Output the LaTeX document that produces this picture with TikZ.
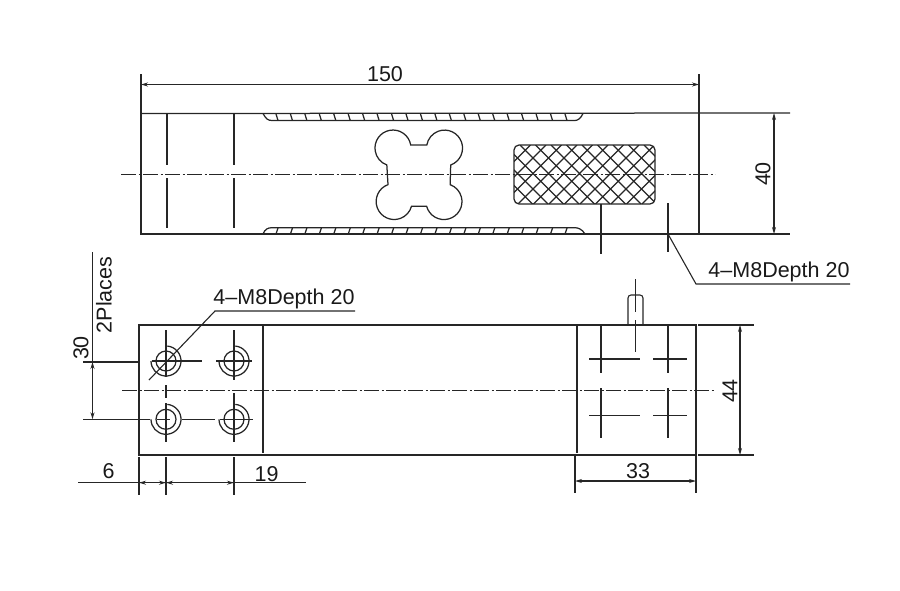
\documentclass[tikz,border=0pt]{standalone}
\usepackage{fontspec}
\setmainfont{Liberation Sans}
\usetikzlibrary{arrows.meta}
\tikzset{
  outline/.style = {line width = 1.25pt, black!85},
  thinline/.style = {line width = 1.1pt, black!85},
  axisline/.style = {line width = 1.4pt, black!85, dash pattern = on 15pt off 2.5pt on 2pt off 2.5pt},
  dimline/.style = {line width = 1.1pt, black!85, {Stealth[length = 7pt, width = 4pt]}-{Stealth[length = 7pt, width = 4pt]}},
  dimtext/.style = {inner sep = 0pt, font = \fontsize{21.5}{25}\selectfont, text = black!90}
}
\begin{document}
\begin{tikzpicture}[x = 1pt, y = -1pt, >={Stealth[length = 7pt, width = 4pt]}]
        \useasboundingbox (0, 0) rectangle (900, 590);

        % ------------------------------------------------------------------------
        % Top view
        \draw[outline] (141, 74) -- (141, 234) -- (790, 234);
        \draw[outline] (141, 113.5) -- (790, 113);
        \draw[outline] (699, 74) -- (699, 234);

        \draw[outline] (167, 114) -- (167, 165) (167, 178) -- (167, 228);
        \draw[outline] (234, 114) -- (234, 165) (234, 178) -- (234, 228);

        \draw[axisline] (121, 174.3) -- (715, 174.3);

        \draw[thinline] (141, 84.5) edge[<->] (699, 84.5);
        \draw[dimline] (774, 113) -- (774, 234);
        \node[dimtext] at (385, 74) (top_length) {150};
        \node[dimtext, rotate = 90] at (763, 174) (top_height) {40};

        % ribs
        \draw[outline] (263, 113.5) .. controls (266, 119) and (268, 120.5) .. (272, 120.5)
          -- (575, 120.5) .. controls (578, 120.5) and (581, 118) .. (583, 113.5);
        \draw[outline] (263, 234) .. controls (265, 229) and (268, 227.7) .. (272, 227.7)
          -- (575, 227.7) .. controls (578, 227.7) and (582, 229) .. (585, 234);
        \foreach \k in {0, ..., 20} {
          \draw[outline] ({276 + 14.45 * \k}, 114) -- ++(2, 6.5);
          \draw[outline] ({278 + 14.45 * \k}, 228) -- ++(-2, 6);
        }

        % flexure hole
        \draw[outline]
          (410.7, 144.9) arc[start angle = -10, end angle = -250, radius = 18]
          -- (388, 184.6) arc[start angle = 250, end angle = 15, radius = 18]
          -- (426.6, 206.2) arc[start angle = 165, end angle = -70, radius = 18]
          -- (450.7, 165) arc[start angle = 70, end angle = -170, radius = 18]
          -- cycle;

        % strain gauge window
        \begin{scope}
          \clip[rounded corners = 5pt] (514, 145) rectangle (655, 204);
          \foreach \k in {0, ..., 13} {
            \draw[outline] ({458 + 15.5 * \k}, 145) -- ++(59, 59);
            \draw[outline] ({515 + 15.5 * \k}, 145) -- ++(-59, 59);
          }
        \end{scope}
        \draw[outline, rounded corners = 5pt] (514, 145) rectangle (655, 204);

        \draw[outline] (601, 204) -- (601, 254);
        \draw[outline] (668, 203) -- (668, 252);

        \node[dimtext] at (779, 272) (top_holes) {4–M8Depth 20};
        \draw[thinline] (668, 234) -- (696, 284) -- (850, 284);

        % ------------------------------------------------------------------------
        % Bottom view
        \draw[outline] (139, 325) rectangle (696, 455);
        \draw[outline] (263, 325) -- (263, 453);
        \draw[outline] (577, 325) -- (577, 453);

        \draw[axisline] (122, 390.7) -- (715, 390.7);

        % cable
        \draw[thinline, rounded corners = 3pt] (628, 325) -- (628, 295) -- (643, 295) -- (643, 325);
        \draw[outline] (635.7, 279) -- (635.7, 312) (635.7, 320) -- (635.7, 352);

        % right holes
        \foreach \xa/\xb/\xc in {601/589/640, 668/653/687} {
          \draw[outline] (\xa, 325) -- (\xa, 373);
          \draw[outline] (\xa, 388) -- (\xa, 438);
          \draw[outline] (\xb, 359) -- (\xc, 359);
          \draw[outline] (\xb, 415.3) -- (\xc, 415.3);
        }

        % left holes
        \foreach \xa/\ya in {166/361, 234/361, 166/419.3, 234/419.3} {
          \draw[outline] (\xa, \ya) circle[radius = 10];
          \draw[outline] (\xa, \ya) ++(-85:15) arc[start angle = -85, end angle = 180, radius = 15];
        }
        \draw[outline]
          (166, 330) -- (166, 377)
          (166, 385) -- (166, 398)
          (166, 403) -- (166, 442)
          (234, 330) -- (234, 380)
          (234, 393) -- (234, 442)
          (83, 362) -- (139, 362)
          (152, 361) -- (202, 361)
          (216, 361) -- (252, 361)
          (83, 419.3) -- (150, 419.3)
          (157, 419.3) -- (170, 419.3)
          (182, 419.3) -- (215, 419.3)
          (220, 419.3) -- (253, 419.3)
        ;

        \node[dimtext] at (284, 299.3) (bottom_holes) {4–M8Depth 20};
        \draw[thinline] (355, 311) -- (215, 311) -- (149, 380);

        % dimensions
        \draw[thinline] (92.5, 252) -- (92.5, 362);
        \draw[dimline] (92.5, 362) -- (92.5, 419.3);
        \node[dimtext, rotate = 90] at (81, 348) (hole_pitch) {30};
        \node[dimtext, rotate = 90] at (104, 295) (hole_places) {2Places};

        \draw[thinline] (698, 325) -- (754, 325) (698, 455) -- (754, 455);
        \draw[dimline] (740, 325) -- (740, 455);
        \node[dimtext, rotate = 90] at (730, 391) (bottom_width) {44};

        \draw[thinline] (575, 456) -- (575, 493);
        \draw[thinline] (696, 456) -- (696, 493);
        \draw[dimline] (575, 481) -- (696, 481);
        \node[dimtext] at (638, 471) (plate_length) {33};

        \draw[thinline]
          (139, 457) -- (139, 495)
          (166, 457) -- (166, 495)
          (234, 457) -- (234, 495)
          (78, 482.7) -- (306, 482.7)
        ;
        \draw[->, thinline] (150, 482.7) -- (139, 482.7);
        \draw[->, thinline] (155, 482.7) -- (166, 482.7);
        \draw[->, thinline] (177, 482.7) -- (166, 482.7);
        \draw[->, thinline] (223, 482.7) -- (234, 482.7);
        \node[dimtext] at (108.7, 471) (edge_offset) {6};
        \node[dimtext] at (266.7, 474) (hole_spacing) {19};
      \end{tikzpicture}
\end{document}
